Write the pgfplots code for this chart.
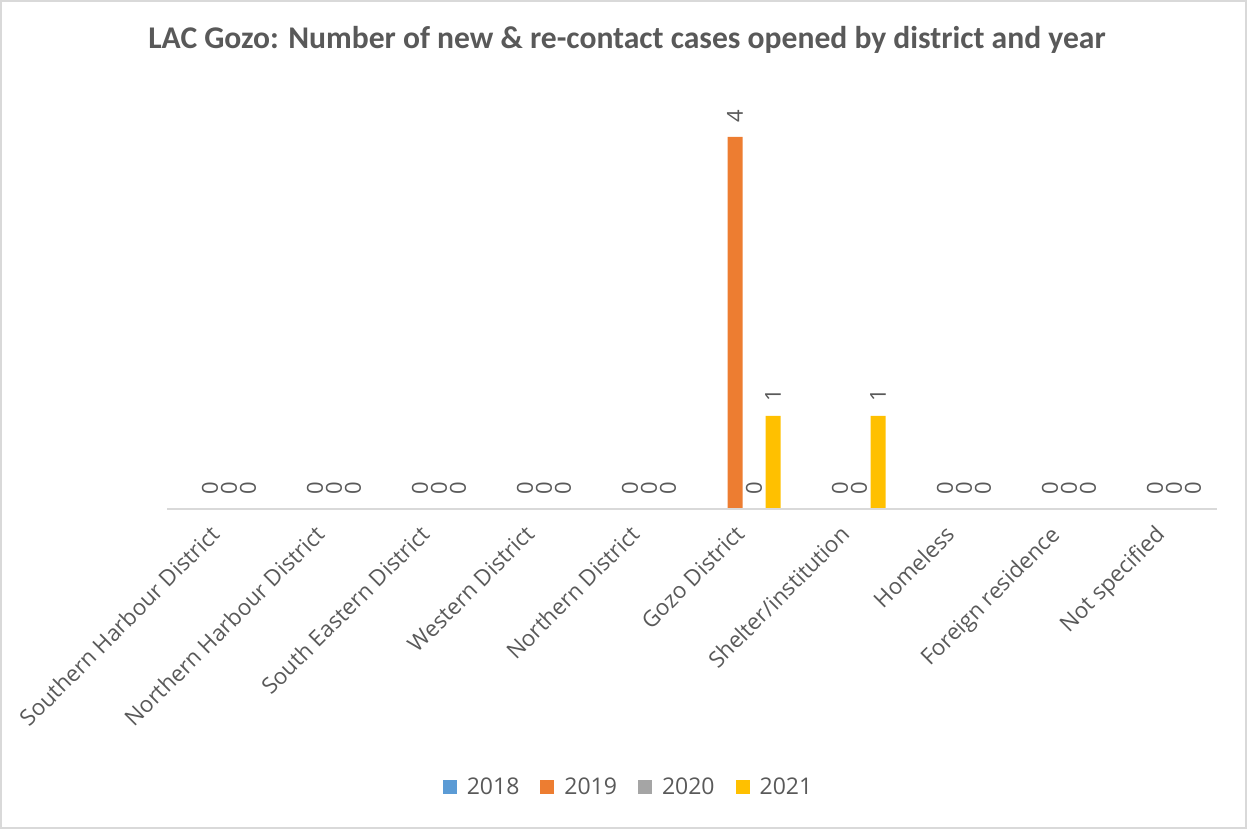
\documentclass[border=0pt]{standalone}
\usepackage{fontspec}
\setmainfont{Carlito}
\newfontfamily\lblfont{Open Sans}
\usepackage{pgfplots}
\pgfplotsset{compat=1.18}
\definecolor{c18}{HTML}{5B9BD5}
\definecolor{c19}{HTML}{ED7D31}
\definecolor{c20}{HTML}{A5A5A5}
\definecolor{c21}{HTML}{FFC000}
\definecolor{txt}{HTML}{595959}
\definecolor{axl}{HTML}{D9D9D9}
\begin{document}
\begin{tikzpicture}
% chart area frame (1px = 0.5pt)
\draw[axl, line width=0.8pt] (0.4pt,0.4pt) rectangle (623.1pt,414.1pt);
\node[txt, font=\fontsize{15.8}{19}\selectfont\bfseries] at (313.5pt,394.5pt)
  {LAC Gozo: Number of new \& re-contact cases opened by district and year};
\begin{axis}[
    at={(83.5pt,160pt)}, anchor=south west,
    scale only axis, width=525pt, height=209.25pt,
    ybar=2pt, bar width=7.5pt,
    xmin=-0.5, xmax=9.5, ymin=0, ymax=4.5,
    axis on top,
    axis y line=none, axis x line*=bottom,
    x axis line style={draw=axl, line width=1pt, -},
    major tick length=0pt,
    xtick={0,...,9},
    xticklabels={Southern Harbour District, Northern Harbour District, South Eastern District,
      Western District, Northern District, Gozo District, Shelter/institution,
      Homeless, Foreign residence, Not specified},
    xticklabel style={rotate=45, anchor=north east, inner sep=0pt, xshift=-8.8pt, yshift=-1.5pt,
      font=\lblfont\fontsize{11.2}{13}\selectfont, text=txt},
    /pgf/number format/assume math mode=true,
    every node near coord/.append style={rotate=90, anchor=west, inner sep=0pt,
      xshift=7pt, font=\lblfont\fontsize{11}{13}\selectfont, text=txt},
    legend columns=-1,
    legend style={at={(0.4405,-0.667)}, anchor=center, draw=none, fill=none,
      font=\lblfont\fontsize{11.5}{13}\selectfont, text=txt,
      /tikz/every odd column/.append style={column sep=3pt},
      /tikz/every even column/.append style={column sep=8.5pt}},
    legend image code/.code={\fill[#1] (0pt,-3pt) rectangle (7pt,4pt);},
]
\addplot[fill=c18, draw=none] coordinates {(0,0) (1,0) (2,0) (3,0) (4,0) (5,0) (6,0) (7,0) (8,0) (9,0)};
\addplot[fill=c19, draw=none, nodes near coords] coordinates {(0,0) (1,0) (2,0) (3,0) (4,0) (5,4) (6,0) (7,0) (8,0) (9,0)};
\addplot[fill=c20, draw=none, nodes near coords] coordinates {(0,0) (1,0) (2,0) (3,0) (4,0) (5,0) (6,0) (7,0) (8,0) (9,0)};
\addplot[fill=c21, draw=none, nodes near coords] coordinates {(0,0) (1,0) (2,0) (3,0) (4,0) (5,1) (6,1) (7,0) (8,0) (9,0)};
\legend{2018, 2019, 2020, 2021}
\end{axis}
\end{tikzpicture}
\end{document}
